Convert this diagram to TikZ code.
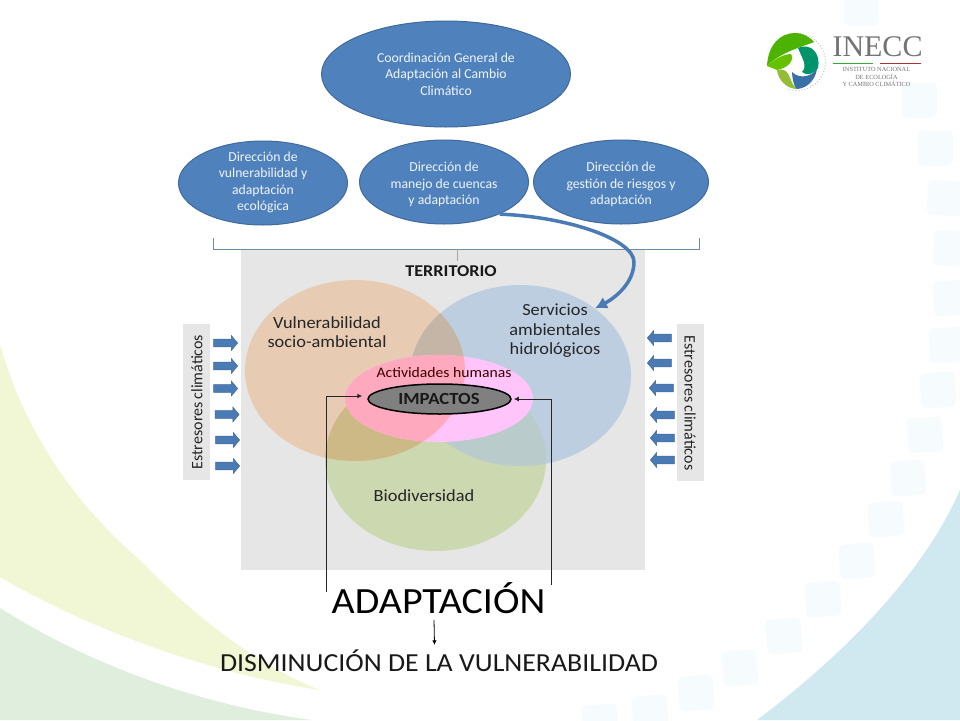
\documentclass[tikz,border=0pt]{standalone}
\usepackage{fontspec}
\setmainfont{Carlito}
\newfontfamily\logofont{Liberation Serif}
\usetikzlibrary{shapes.geometric,shapes.arrows,arrows.meta}
\definecolor{bgyellow}{HTML}{F1F6D5}
\definecolor{bggreen}{HTML}{DFEEDD}
\definecolor{bgblue}{HTML}{D0E9F1}
\definecolor{bgsquare}{HTML}{F6FBFE}
\definecolor{dirblue}{HTML}{4F81BD}
\definecolor{dirline}{HTML}{41699A}
\definecolor{brline}{HTML}{6B8FA8}
\definecolor{terr}{HTML}{E6E6E6}
\definecolor{vbrown}{HTML}{E8CBB3}
\definecolor{vblue}{HTML}{BDCEE1}
\definecolor{vgreen}{HTML}{CCD8B0}
\definecolor{bb}{HTML}{C5B5A6}
\definecolor{bg}{HTML}{CDB985}
\definecolor{gb}{HTML}{B9CBCB}
\definecolor{vpink}{HTML}{FFC4FA}
\definecolor{pb}{HTML}{FFA9BF}
\newcommand{\firststrut}{\rule{0pt}{14.6pt}}
\tikzset{
  square/.style={fill=bgsquare,rounded corners=5pt,draw=none,minimum size=35pt,inner sep=0pt},
  dirnode/.style={ellipse,fill=dirblue,draw=dirline,line width=1pt,inner sep=0pt,text=white!92!dirblue,align=center,font=\fontsize{13.7}{16.6}\selectfont},
  dirlabel/.style={inner sep=0pt,text=white!92!dirblue,align=center,font=\fontsize{13.7}{16.6}\selectfont},
  venn/.style={ellipse,inner sep=0pt,draw=none},
  vlabel/.style={align=center,text=black!85,xscale=1.08,font=\fontsize{17}{19.5}\selectfont},
  graybox/.style={fill=terr,draw=none,inner sep=0pt},
  sidetext/.style={text=black!85,font=\fontsize{16}{18}\selectfont,inner sep=0pt},
  bluearrow/.style={single arrow,fill=dirblue!95!black,draw=dirline,line width=.5pt,minimum height=24pt,minimum width=15pt,single arrow head extend=2.5pt,single arrow tip angle=100,inner sep=2.4pt},
  leftarrow/.style={bluearrow,shape border rotate=180},
  blackconn/.style={draw=black!85,line width=1pt,-{Latex[length=5pt,width=5pt]}},
}
\begin{document}
\begin{tikzpicture}[x=1pt,y=-1pt]
\useasboundingbox (0,0) rectangle (960,720);
\fill[white] (0,0) rectangle (960,720);
% background
\fill[bgyellow] (0,345) .. controls (25,430) and (70,500) .. (143,563) .. controls (190,612) and (255,665) .. (320,690) .. controls (220,675) and (100,635) .. (0,577) -- cycle;
\fill[bggreen] (0,608) .. controls (90,665) and (200,705) .. (312,720) -- (0,720) -- cycle;
\fill[bgblue] (960,490) .. controls (925,570) and (850,650) .. (757,720) -- (960,720) -- cycle;
\foreach \n/\px/\py/\rr in {a/861/8/0,b/919/100/0,c/935/148/0,d/945/198/-2,e/951/248/-2,f/951/298/2,g/947/345/2,h/938/390/3,i/925/435/3,j/908/478/3,k/886/519/4,l/857/561/5,m/823/599/4,n/784/636/5,o/740/668/5,p/696/693/5,q/650/713/3,r/600/722/3}
  \node[square,rotate=\rr] (sq\n) at (\px,\py) {};
% logo
\draw[black!22,line width=1pt,dotted] (797,33.5) arc (-90:110:28.5);
\fill[green!58!black!70!yellow] (767,66) .. controls (768,45) and (780,33) .. (795,33) .. controls (803,33) and (810,37) .. (814,42) .. controls (805,46) and (780,52) .. (767,66) -- cycle;
\fill[green!60!black!60!yellow] (767,66) .. controls (775,58) and (785,54) .. (791,54) .. controls (795,60) and (788,68) .. (777,70) -- cycle;
\fill[teal!85!green] (798,48) .. controls (812,42) and (821,55) .. (818,68) .. controls (815,74) and (806,76) .. (802,72) .. controls (808,66) and (802,58) .. (798,48) -- cycle;
\fill[cyan!60!blue!75!black] (792,72) .. controls (800,80) and (812,76) .. (817,69) .. controls (815,82) and (805,89) .. (796,89) .. controls (794,85) and (792,78) .. (792,72) -- cycle;
\fill[yellow!60!green!85!black] (777,70) .. controls (785,68) and (788,72) .. (790,78) .. controls (792,83) and (794,87) .. (797,89) .. controls (787,89) and (778,80) .. (777,70) -- cycle;
\node[font=\logofont\fontsize{30}{30}\selectfont,text=black!55,inner sep=0pt] (ltitle) at (877.5,47) {INECC};
\node[font=\logofont\fontsize{6.3}{7.2}\selectfont,text=black!55,align=center,inner sep=0pt] (lsub) at (876.5,77) {INSTITUTO NACIONAL\\DE ECOLOGÍA\\Y CAMBIO CLIMÁTICO};
\draw[green!60!black!80!white,line width=.8pt] (833,63) -- (873,63);
\draw[red!60!black!80!white,line width=.8pt] (880,63) -- (921,63);
% direction ellipses
\node[dirnode,minimum width=249pt,minimum height=106pt] (top) at (446,74) {Coordinación General de\\Adaptación al Cambio\\Climático};
\node[dirnode,minimum width=169pt,minimum height=84pt] (vuln) at (263,183) {};
\node[dirlabel] (vulnl) at (263,182.5) {Dirección de\\vulnerabilidad y\\adaptación\\ecológica};
\node[dirnode,minimum width=169pt,minimum height=84pt] (cuen) at (444,182) {\firststrut Dirección de\\manejo de cuencas\\y adaptación};
\node[dirnode,minimum width=175pt,minimum height=84pt] (gest) at (621,182) {\firststrut Dirección de\\gestión de riesgos y\\adaptación};
% territory
\node[graybox,minimum width=404pt,minimum height=320pt] (terr) at (443,410) {};
\draw[draw=brline,line width=.8pt] (213,238) -- (213,249) -- (699,249) -- (699,238);
\coordinate (brk) at (457,249);
\draw[black!35,line width=.6pt] (brk) -- (457,261);
\node[font=\bfseries\fontsize{16.5}{18}\selectfont,xscale=1.1,text=black!90] (terrl) at (451,271) {TERRITORIO};
% venn
\node[venn,fill=vgreen,minimum width=221pt,minimum height=182pt] (biod) at (435.5,460) {};
\node[venn,fill=vbrown,minimum width=220pt,minimum height=181pt] (vsoc) at (355,370.5) {};
\node[venn,fill=vblue,minimum width=221pt,minimum height=181pt] (serv) at (520.5,375.5) {};
\begin{scope}
  \clip (355,370.5) ellipse [x radius=110,y radius=90.5];
  \fill[bb] (520.5,375.5) ellipse [x radius=110.5,y radius=90.5];
  \fill[bg] (435.5,460) ellipse [x radius=110.5,y radius=91];
\end{scope}
\begin{scope}
  \clip (520.5,375.5) ellipse [x radius=110.5,y radius=90.5];
  \clip (0,0) rectangle (960,720);
  \fill[gb] (435.5,460) ellipse [x radius=110.5,y radius=91];
\end{scope}
\node[venn,fill=vpink,minimum width=188pt,minimum height=87pt] (acti) at (439,398.5) {};
\begin{scope}
  \clip (439,398.5) ellipse [x radius=94,y radius=43.5];
  \fill[pb] (355,370.5) ellipse [x radius=110,y radius=90.5];
\end{scope}
\node[vlabel] (vsocl) at (327,332) {Vulnerabilidad\\socio-ambiental};
\node[vlabel] (servl) at (555,331) {Servicios\\ambientales\\hidrológicos};
\node[font=\fontsize{14.5}{16}\selectfont,xscale=1.08,text=black!60!red!60!black] (actil) at (444,373) {Actividades humanas};
\node[vlabel] (biodl) at (424,496) {Biodiversidad};
\node[ellipse,fill=black!50,draw=black,line width=1.5pt,minimum width=143pt,minimum height=30pt,inner sep=0pt] (imp) at (439.5,399) {};
\node[font=\bfseries\fontsize{17}{18}\selectfont,xscale=1.1,text=black!90] (impl) at (439,399) {IMPACTOS};
% side boxes
\node[graybox,minimum width=27pt,minimum height=156pt] (lbox) at (196.5,402) {};
\node[sidetext,rotate=90] (ltext) at (197,402) {Estresores\kern3pt climáticos};
\node[graybox,minimum width=27pt,minimum height=157pt] (rbox) at (690.5,402.5) {};
\node[sidetext,rotate=270] (rtext) at (690,403) {Estresores\kern3pt climáticos};
\foreach \n/\px/\py in {a/224/343,b/224/366,c/224/388.5,d/225.5/414.5,e/226/440,f/226/466}
  \node[bluearrow] (la\n) at (\px,\py) {};
\foreach \n/\px/\py in {a/661/338,b/661/363,c/663/388,d/664/415,e/664/438,f/664/460}
  \node[leftarrow] (ra\n) at (\px,\py) {};
% curved arrow
\draw[draw=dirblue!95!black,line width=3.5pt,-{Latex[length=12pt,width=13pt]}] (cuen.-30) .. controls (570,217) and (634,240) .. (634,262) .. controls (634,283) and (615,298) .. (serv.42.6);
% bottom
\node[font=\fontsize{37}{39}\selectfont,xscale=1.08,text=black,inner sep=0pt] (adap) at (438.5,598.5) {ADAPTACIÓN};
\node[font=\fontsize{26}{28}\selectfont,xscale=1.07,text=black!90,inner sep=0pt] (dism) at (439,661) {DISMINUCIÓN DE LA VULNERABILIDAD};
\coordinate (adL) at (326,592);
\coordinate (adR) at (551,585);
\draw[blackconn] (adL) |- ([xshift=-5pt,yshift=3pt]imp.west);
\draw[blackconn] (adR) |- ([xshift=2pt]imp.east);
\draw[black,line width=.8pt,-{Latex[length=4.5pt,width=4.5pt]}] ([xshift=-4.5pt,yshift=-5.5pt]adap.south) -- ([xshift=-4.5pt,yshift=5pt]dism.north);
\end{tikzpicture}
\end{document}
